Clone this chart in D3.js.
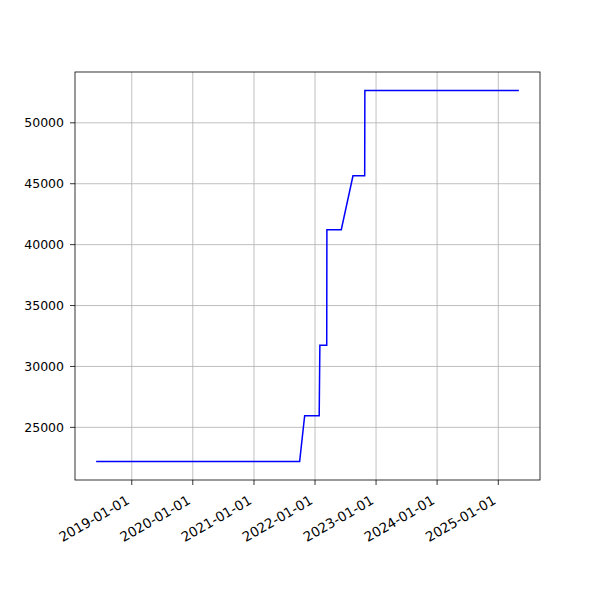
<!DOCTYPE html>
<html><head><meta charset="utf-8">
<script src="https://cdn.jsdelivr.net/npm/d3@7"></script>
<style>body{margin:0;background:#fff}svg{display:block}text{font-family:"DejaVu Sans",sans-serif}</style>
</head><body><svg id="c" width="600" height="600"></svg>
<script>
const dates = ["2018-06-02","2021-10-01","2021-10-31","2022-01-26","2022-01-30","2022-03-12","2022-03-13","2022-06-07","2022-08-16","2022-10-25","2022-10-26","2025-05-04"];
const values = [22200,22200,25960,25960,31750,31750,41230,41230,45650,45650,52650,52650];
const yTicks = [25000,30000,35000,40000,45000,50000];
const xTickLabels = ["2019-01-01","2020-01-01","2021-01-01","2022-01-01","2023-01-01","2024-01-01","2025-01-01"];

const parse = d3.timeParse("%Y-%m-%d");
const data = dates.map((d,i)=>({t:parse(d), v:values[i]}));

const L=75,R=540,T=72,B=480;
const svg=d3.select("#c");
const tExt=d3.extent(data,d=>d.t), vExt=d3.extent(data,d=>d.v);
const tPad=(tExt[1]-tExt[0])*0.05, vPad=(vExt[1]-vExt[0])*0.05;
const x=d3.scaleTime().domain([new Date(+tExt[0]-tPad),new Date(+tExt[1]+tPad)]).range([L,R]);
const y=d3.scaleLinear().domain([vExt[0]-vPad,vExt[1]+vPad]).range([B,T]);
const xt=xTickLabels.map(s=>parse(s));

const g=svg.append("g");
g.selectAll(".gx").data(xt).join("line").attr("x1",d=>x(d)).attr("x2",d=>x(d)).attr("y1",T).attr("y2",B).attr("stroke","#b0b0b0").attr("stroke-width",0.8);
g.selectAll(".gy").data(yTicks).join("line").attr("x1",L).attr("x2",R).attr("y1",d=>y(d)).attr("y2",d=>y(d)).attr("stroke","#b0b0b0").attr("stroke-width",0.8);
svg.append("path").datum(data).attr("fill","none").attr("stroke","#0000ff").attr("stroke-width",1.5).attr("stroke-linejoin","miter")
  .attr("d",d3.line().x(d=>x(d.t)).y(d=>y(d.v)));
svg.append("rect").attr("x",L).attr("y",T).attr("width",R-L).attr("height",B-T).attr("fill","none").attr("stroke","#000").attr("stroke-width",0.8);
const fsx=13.5, fsy=12.5;
xt.forEach((d,i)=>{
  const px=x(d);
  svg.append("line").attr("x1",px).attr("x2",px).attr("y1",B).attr("y2",B+5).attr("stroke","#000").attr("stroke-width",0.8);
  const h=fsx*1.15, Px=px-0.25*h, Py=B+12+0.433*h;
  svg.append("text").attr("transform",`translate(${Px},${Py}) rotate(-30)`).attr("text-anchor","end").attr("dominant-baseline","central")
    .attr("font-size",fsx).attr("fill","#000").text(xTickLabels[i]);
});
yTicks.forEach(v=>{
  const py=y(v);
  svg.append("line").attr("x1",L-5).attr("x2",L).attr("y1",py).attr("y2",py).attr("stroke","#000").attr("stroke-width",0.8);
  svg.append("text").attr("x",L-11).attr("y",py).attr("text-anchor","end").attr("dominant-baseline","central").attr("font-size",fsy).attr("fill","#000").text(v);
});
</script></body></html>
